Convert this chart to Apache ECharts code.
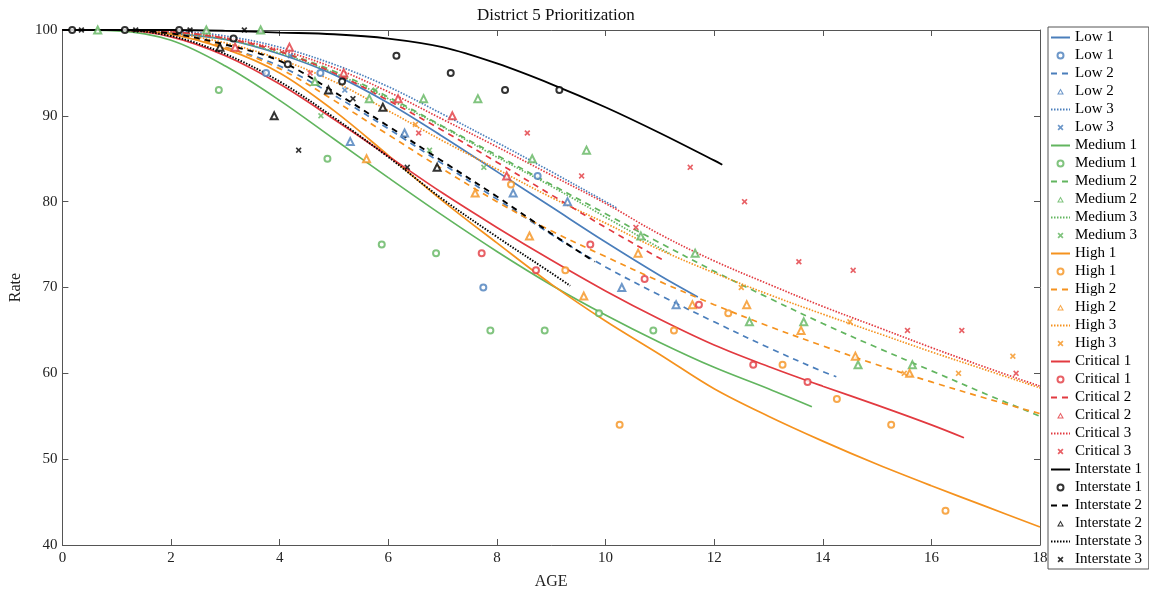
<!DOCTYPE html>
<html><head><meta charset="utf-8">
<script src="https://cdn.jsdelivr.net/npm/echarts@6/dist/echarts.min.js"></script>
<style>html,body{margin:0;padding:0;background:#fff}#c{width:1149px;height:596px}</style>
</head><body><div id="c"></div>
<script>
// ---- fitted curves (x, y) ----
const low1X = [0,1,2,3,4,5,6,7,8,9,10,11,11.7];
const low1Y = [100,100,99.6,98.9,97.2,94.8,91.5,87.6,83.5,79.4,75.3,71.4,68.9];
const low2X = [0,1,2,3,4,5,6,7,8,9,10,11,12,13,14,14.25];
const low2Y = [100,100,99.5,98,95.8,92.4,88.5,84.4,80.3,76.2,72.4,69.1,66,63,60.2,59.6];
const low3X = [0,1,2,3,4,5,6,7,8,9,10,10.2];
const low3Y = [100,100,99.9,99.3,98,96,93.4,90.2,86.9,83.5,80,79.3];
const med1X = [0,1,2,3,4,5,6,7,8,9,10,11,12,13,13.8];
const med1Y = [100,99.9,98.8,95.8,91.8,87.3,82.8,78.4,74.2,70.3,66.8,63.6,60.7,58.2,56.1];
const med2X = [0,1,2,3,4,5,6,7,8,9,10,11,12,13,14,15,16,17,18];
const med2Y = [100,100,99.8,99,97.5,95.2,92.2,88.8,85.4,82,78.6,75.2,71.9,68.8,65.8,63,60.3,57.6,55];
const med3X = [0,1,2,3,4,5,6,7,8,9,10,11,11.2];
const med3Y = [100,100,99.7,98.9,97.3,95,92,88.7,85.2,81.8,78.2,74.6,73.9];
const high1X = [0,1,2,3,4,5,6,7,8,9,10,11,12,13,14,15,16,17,18];
const high1Y = [100,100,99.5,97.8,95,90.6,85.4,80.1,75.2,70.4,66.1,62.2,58.2,55,52.1,49.4,46.9,44.5,42.1];
const high2X = [0,1,2,3,4,5,6,7,8,9,10,11,12,13,14,15,16,17,18];
const high2Y = [100,100,99.6,98,95.5,91.8,87.8,83.8,80,76.6,73.6,70.7,68,65.5,63.2,61,59,57.1,55.3];
const high3X = [0,1,2,3,4,5,6,7,8,9,10,11,12,13,14,15,16,17,18];
const high3Y = [100,100,99.6,98.5,96.6,94,90.6,87.1,83.8,80.5,77.5,74.4,71.7,69.2,66.9,64.7,62.5,60.4,58.3];
const crit1X = [0,1,2,3,4,5,6,7,8,9,10,11,12,13,14,15,16,16.6];
const crit1Y = [100,100,99.2,97,93.7,89.6,85.3,81,77,73.2,69.6,66.3,63.3,60.8,58.5,56.3,54,52.5];
const crit2X = [0,1,2,3,4,5,6,7,8,9,10,11,11.1];
const crit2Y = [100,100,99.8,99,97.5,95,91.8,88.3,84.6,80.8,77,73.4,73.1];
const crit3X = [0,1,2,3,4,5,6,7,8,9,10,11,12,13,14,15,16,17,18];
const crit3Y = [100,100,99.8,99.1,97.7,95.6,92.8,89.6,86.4,83.1,79.8,76.2,73.1,70.4,67.8,65.4,63,60.7,58.5];
const int1X = [0,1,2,3,4,5,6,7,8,9,10,11,12,12.15];
const int1Y = [100,100,100,99.9,99.7,99.5,99,98,96.1,93.7,91,88,84.8,84.3];
const int2X = [0,1,2,3,4,5,6,7,8,9,9.8];
const int2Y = [100,100,99.6,98.3,96.4,92.8,88.8,84.7,80.6,76.3,73];
const int3X = [0,1,2,3,4,5,6,7,8,9,9.35];
const int3Y = [100,100,99.3,97.2,94,89.8,85.2,80.3,75.9,71.7,70.2];

// ---- observed points ----
const low1PX = [3.75,4.75,7.75,8.75];
const low1PY = [95,95,70,83];
const low2PX = [5.3,6.3,8.3,9.3,10.3,11.3];
const low2PY = [87,88,81,80,70,68];
const low3PX = [4.2,5.2];
const low3PY = [97,93];
const med1PX = [2.88,4.88,5.88,6.88,7.88,8.88,9.88,10.88];
const med1PY = [93,85,75,74,65,65,67,65];
const med2PX = [0.65,2.65,3.65,4.65,5.65,6.65,7.65,8.65,9.65,10.65,11.65,12.65,13.65,14.65,15.65];
const med2PY = [100,100,100,94,92,92,92,85,86,76,74,66,66,61,61];
const med3PX = [4.76,5.76,6.76,7.76];
const med3PY = [90,93,86,84];
const high1PX = [8.26,9.26,10.26,11.26,12.26,13.26,14.26,15.26,16.26];
const high1PY = [82,72,54,65,67,61,57,54,44];
const high2PX = [5.6,7.6,8.6,9.6,10.6,11.6,12.6,13.6,14.6,15.6];
const high2PY = [85,81,76,69,74,68,68,65,62,60];
const high3PX = [6.5,12.5,14.5,15.5,16.5,17.5];
const high3PY = [89,70,66,60,60,62];
const crit1PX = [7.72,8.72,9.72,10.72,11.72,12.72,13.72];
const crit1PY = [74,72,75,71,68,61,59];
const crit2PX = [3.18,4.18,5.18,6.18,7.18,8.18];
const crit2PY = [98,98,95,92,90,83];
const crit3PX = [4.56,6.56,8.56,9.56,10.56,11.56,12.56,13.56,14.56,15.56,16.56,17.56];
const crit3PY = [95,88,88,83,77,84,80,73,72,65,65,60];
const int1PX = [0.18,1.15,2.15,3.15,4.15,5.15,6.15,7.15,8.15,9.15];
const int1PY = [100,100,100,99,96,94,97,95,93,93];
const int2PX = [2.9,3.9,4.9,5.9,6.9];
const int2PY = [98,90,93,91,84];
const int3PX = [0.35,1.35,2.35,3.35,4.35,5.35,6.35];
const int3PY = [100,100,100,100,86,92,84];

const xTicks = [0,2,4,6,8,10,12,14,16,18];
const yTicks = [40,50,60,70,80,90,100];

const COL = {Low:'#4a7ebb', Medium:'#62b55f', High:'#f5921e', Critical:'#e23a40', Interstate:'#000000'};
const XSYM = 'path://M2,0L5,3L8,0L10,2L7,5L10,8L8,10L5,7L2,10L0,8L3,5L0,2Z';
// hollow triangle for legend, padded to the legend icon box so it keeps its shape
const TRI_LEGEND = 'path://M0,0M19,6M9.5,0L12.9,6L6.1,6ZM9.5,2.1L7.9,5L11.1,5Z';
const SERIF = '"Liberation Serif","Times New Roman",serif';

function zip(xs, ys){ return xs.map((x,i)=>[x, ys[i]]); }

const groups = [
  ['Low', [[low1X,low1Y,low1PX,low1PY],[low2X,low2Y,low2PX,low2PY],[low3X,low3Y,low3PX,low3PY]]],
  ['Medium', [[med1X,med1Y,med1PX,med1PY],[med2X,med2Y,med2PX,med2PY],[med3X,med3Y,med3PX,med3PY]]],
  ['High', [[high1X,high1Y,high1PX,high1PY],[high2X,high2Y,high2PX,high2PY],[high3X,high3Y,high3PX,high3PY]]],
  ['Critical', [[crit1X,crit1Y,crit1PX,crit1PY],[crit2X,crit2Y,crit2PX,crit2PY],[crit3X,crit3Y,crit3PX,crit3PY]]],
  ['Interstate', [[int1X,int1Y,int1PX,int1PY],[int2X,int2Y,int2PX,int2PY],[int3X,int3Y,int3PX,int3PY]]]
];
const lineTypes = ['solid', [6,5], [1.5,1.5]];
const syms = ['emptyCircle', 'emptyTriangle', XSYM];
const symSizes = [6, 7, 6];

const series = [];
const legendData = [];
groups.forEach(([g, arr]) => {
  arr.forEach((d, k) => {
    const c = COL[g];
    const nm = g + ' ' + (k+1);
    series.push({
      name: nm, type: 'line', data: zip(d[0], d[1]), smooth: 0.35, symbol: 'none',
      showSymbol: false, lineStyle: {color: c, width: g==='Interstate'?1.9:1.7, type: lineTypes[k]},
      itemStyle: {color: c}, z: 2, silent: true
    });
    const sn = nm + ' ';
    const isX = k === 2;
    series.push({
      name: sn, type: 'scatter', data: zip(d[2], d[3]), symbol: syms[k], symbolSize: symSizes[k],
      symbolKeepAspect: true,
      itemStyle: isX ? {color: c} : {color: c, borderColor: c, borderWidth: 1.5},
      z: 3, silent: true
    });
    legendData.push({name: nm, itemStyle: {opacity: 0}});
    legendData.push(k === 1 ? {name: sn, icon: TRI_LEGEND, itemStyle: {color: c, borderWidth: 0}} : {name: sn});
  });
});

const chart = echarts.init(document.getElementById('c'), null, {renderer: 'canvas'});
const axisCommon = {
  axisLine: {show: true, onZero: false, lineStyle: {color: '#555', width: 1}},
  axisTick: {show: true, inside: true, length: 6, lineStyle: {color: '#555'}},
  splitLine: {show: false}
};
chart.setOption({
  backgroundColor: '#fff',
  animation: false,
  graphic: [{type: 'text', left: 477, top: 7,
    style: {text: 'District 5 Prioritization', font: '17px ' + SERIF, fill: '#111'}}],
  grid: {left: 62, right: 109, top: 30, bottom: 51, containLabel: false},
  legend: {
    data: legendData, orient: 'vertical', left: 1048, top: 27,
    itemWidth: 19, itemHeight: 6, itemGap: 3, symbolKeepAspect: true,
    textStyle: {fontFamily: SERIF, fontSize: 15, color: '#000', lineHeight: 15},
    borderColor: '#555', borderWidth: 1, padding: [3, 3, 2, 2], backgroundColor: '#fff',
    selectedMode: false
  },
  xAxis: [
    Object.assign({type: 'value', min: xTicks[0], max: xTicks[xTicks.length-1], interval: xTicks[1]-xTicks[0],
      position: 'bottom', name: 'AGE', nameLocation: 'middle', nameGap: 29,
      nameTextStyle: {fontFamily: SERIF, fontSize: 16, color: '#222'},
      axisLabel: {fontFamily: SERIF, fontSize: 15, color: '#222', margin: 6}}, axisCommon),
    Object.assign({type: 'value', min: xTicks[0], max: xTicks[xTicks.length-1], interval: xTicks[1]-xTicks[0],
      position: 'top', axisLabel: {show: false}}, axisCommon)
  ],
  yAxis: [
    Object.assign({type: 'value', min: yTicks[0], max: yTicks[yTicks.length-1], interval: yTicks[1]-yTicks[0],
      position: 'left', name: 'Rate', nameLocation: 'middle', nameGap: 34, nameRotate: 90,
      nameTextStyle: {fontFamily: SERIF, fontSize: 16, color: '#222'},
      axisLabel: {fontFamily: SERIF, fontSize: 15, color: '#222', margin: 5}}, axisCommon),
    Object.assign({type: 'value', min: yTicks[0], max: yTicks[yTicks.length-1], interval: yTicks[1]-yTicks[0],
      position: 'right', axisLabel: {show: false}}, axisCommon)
  ],
  series: series
});
</script></body></html>
